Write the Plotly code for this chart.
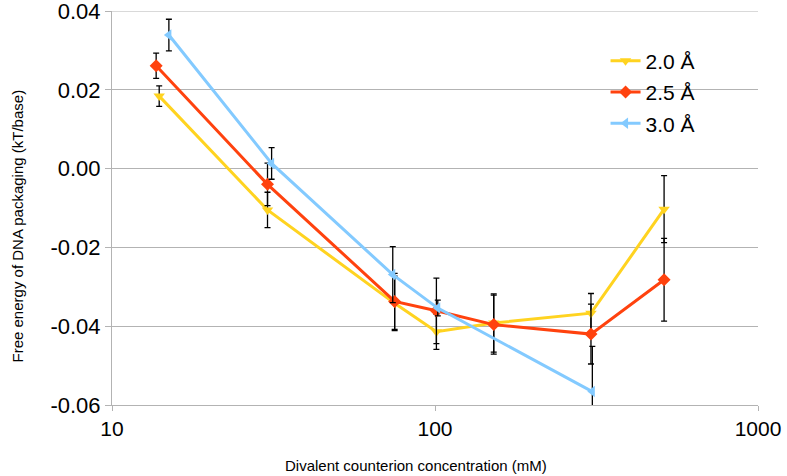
import plotly.graph_objects as go

# ---- data ----
series_names = ["2.0 Å", "2.5 Å", "3.0 Å"]

x_20 = [14.0, 30.3, 75, 101, 152, 304, 512]
y_20 = [0.0184, -0.0105, -0.0342, -0.0414, -0.0392, -0.0367, -0.0103]
e_20 = [0.0026, 0.0045, 0.0069, 0.0045, 0.0074, 0.0050, 0.0085]

x_25 = [13.7, 30.3, 75, 101, 152, 304, 512]
y_25 = [0.0261, -0.0040, -0.0337, -0.0361, -0.0396, -0.0420, -0.0282]
e_25 = [0.0032, 0.0054, 0.0071, 0.0083, 0.0075, 0.0076, 0.0105]

x_30 = [15.0, 31.2, 74, 102, 307]
y_30 = [0.0339, 0.0013, -0.0269, -0.0354, -0.0566]
e_30 = [0.0040, 0.0040, 0.0071, 0.0020, 0.0115]

y_tick_vals = [0.04, 0.02, 0.00, -0.02, -0.04, -0.06]
y_tick_labels = ["0.04", "0.02", "0.00", "-0.02", "-0.04", "-0.06"]
x_tick_vals = [10, 100, 1000]
x_tick_labels = ["10", "100", "1000"]

colors = ["#FFD320", "#FF420E", "#83CAFF"]
symbols = ["triangle-down", "diamond", "triangle-left"]

fig = go.Figure()
for name, xs, ys, es, c, s in zip(series_names, [x_20, x_25, x_30], [y_20, y_25, y_30],
                                  [e_20, e_25, e_30], colors, symbols):
    fig.add_trace(go.Scatter(
        x=xs, y=ys, name=name, mode="lines+markers", legendgroup=name,
        line=dict(color=c, width=3),
        marker=dict(color=c, symbol=s, size=10),
        error_y=dict(type="data", array=es, visible=True, color="#000000",
                     thickness=1.3, width=3),
    ))

# top grid line (plotly drops grid lines lying on the plot edge)
fig.add_shape(type="line", xref="paper", yref="y", x0=0, x1=1,
              y0=max(y_tick_vals), y1=max(y_tick_vals),
              line=dict(color="#b3b3b3", width=1), layer="below")

fig.update_layout(
    width=787, height=476,
    margin=dict(l=112, r=29, t=11, b=71, autoexpand=False),
    paper_bgcolor="white", plot_bgcolor="white",
    font=dict(family="Liberation Sans, Arial, sans-serif", color="black"),
    showlegend=True,
    legend=dict(x=0.764, y=0.925, xanchor="left", yanchor="top",
                font=dict(size=21, color="black"), bgcolor="rgba(0,0,0,0)",
                tracegroupgap=1, itemwidth=30),
    xaxis=dict(type="log", range=[0.99999, 3.00001], tickvals=x_tick_vals,
               ticktext=x_tick_labels, automargin=False,
               showgrid=False, zeroline=False, showline=True, linecolor="#b3b3b3",
               linewidth=1, ticks="outside", ticklen=5, tickcolor="#b3b3b3",
               tickfont=dict(size=21), ticklabeloverflow="allow"),
    yaxis=dict(range=[-0.0600001, 0.0400001], tickvals=y_tick_vals, ticktext=y_tick_labels,
               automargin=False,
               showgrid=True, gridcolor="#b3b3b3", gridwidth=1, zeroline=False,
               showline=True, linecolor="#b3b3b3", linewidth=1,
               ticks="outside", ticklen=6, tickcolor="#b3b3b3",
               tickfont=dict(size=22), ticklabeloverflow="allow"),
    annotations=[
        dict(text="Divalent counterion concentration (mM)", xref="paper", yref="paper",
             x=0.4705, y=-0.1547, showarrow=False, font=dict(size=15),
             xanchor="center", yanchor="middle"),
        dict(text="Free energy of DNA packaging (kT/base)", xref="paper", yref="paper",
             x=-0.1465, y=0.454, showarrow=False, font=dict(size=15), textangle=-90,
             xanchor="center", yanchor="middle"),
    ],
)

fig.write_html("out.html")
